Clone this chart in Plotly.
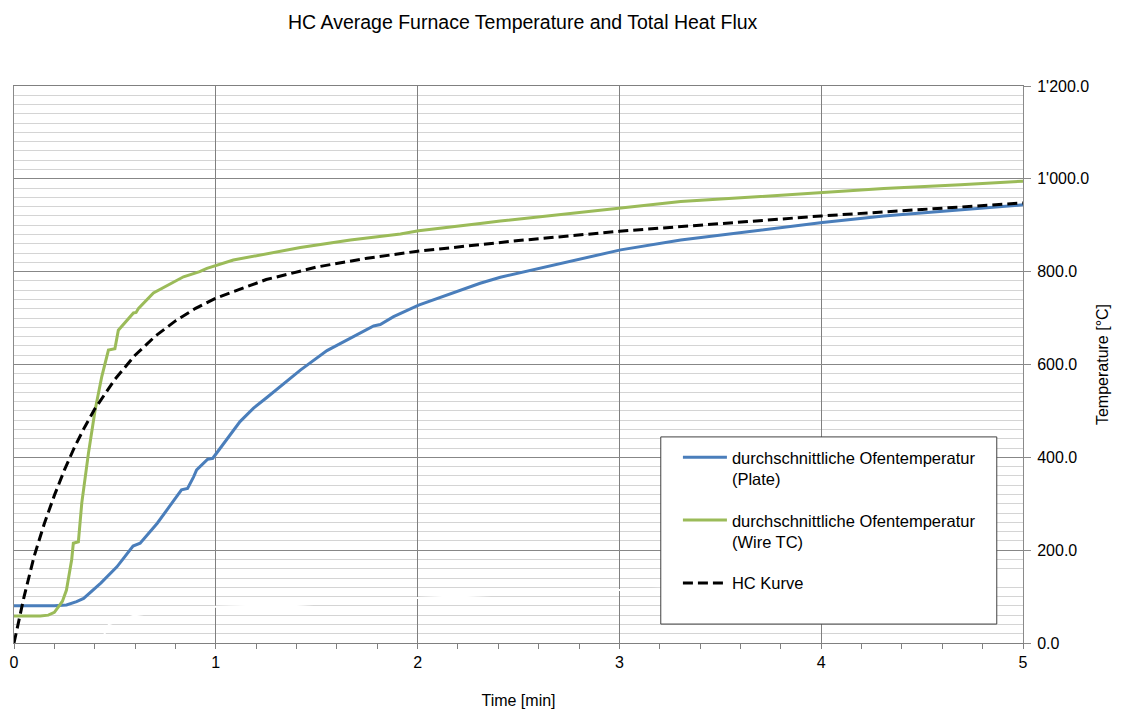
import plotly.graph_objects as go

# ---- data ----
time_plate = [0, 0.2, 0.26, 0.31, 0.345, 0.43, 0.51, 0.59, 0.625, 0.71, 0.83, 0.86, 0.89, 0.905,
              0.96, 0.985, 1.12, 1.154, 1.187, 1.253, 1.419, 1.551, 1.667, 1.782, 1.815, 1.881,
              2.005, 2.179, 2.31, 2.41, 2.642, 3.006, 3.304, 3.70, 3.80, 4.006, 4.31, 4.69, 5.0]
temp_plate = [80, 80, 82, 89, 96, 129, 164, 209, 215, 258, 330, 333, 358, 373,
              396, 398, 477, 491, 506, 529, 588, 630, 656, 683, 686, 703,
              728, 755, 775, 788, 811, 847, 868, 890, 895, 906, 920, 933, 944]

time_wire = [0, 0.13, 0.17, 0.2, 0.22, 0.24, 0.26, 0.28, 0.286, 0.294, 0.319, 0.336, 0.369,
             0.402, 0.435, 0.468, 0.50, 0.517, 0.559, 0.592, 0.605, 0.617, 0.691, 0.79, 0.84,
             0.92, 0.956, 1.087, 1.171, 1.419, 1.667, 1.915, 2.005, 2.163, 2.31, 2.41, 3.006,
             3.304, 3.70, 3.80, 4.006, 4.31, 4.69, 5.0]
temp_wire = [58, 58, 60, 66, 78, 90, 114, 160, 180, 215, 218, 302, 409,
             502, 574, 631, 634, 674, 696, 711, 712, 721, 754, 778, 789,
             800, 807, 825, 832, 852, 868, 881, 888, 897, 904, 909, 936,
             951, 962, 965, 971, 979, 987, 995]

time_hc = [0, 0.02, 0.05, 0.1, 0.15, 0.2, 0.25, 0.3, 0.35, 0.4, 0.5, 0.6, 0.7, 0.8, 0.9, 1.0,
           1.25, 1.5, 1.75, 2.0, 2.5, 3.0, 3.5, 4.0, 4.5, 5.0]
temp_hc = [0, 40, 100, 187, 257, 318, 373, 422, 465, 504, 568, 620, 661, 694, 721, 743,
           783, 810, 829, 844, 867, 887, 904, 920, 934, 948]

# hidden (white) heat-flux series visible only where it crosses grid lines
time_flux = [0.18, 0.43, 0.47, 0.6, 0.8, 1.0, 1.4, 2.0, 3.0, 4.0, 5.0]
val_flux = [0, 2, 40, 60, 72, 78, 82, 97, 114, 128, 140]

names = ["durchschnittliche Ofentemperatur<br>(Plate)",
         "durchschnittliche Ofentemperatur<br>(Wire TC)",
         "HC Kurve"]

FONT = "Arial, Liberation Sans, sans-serif"

fig = go.Figure()
fig.add_trace(go.Scatter(x=time_flux, y=val_flux, mode="lines", showlegend=False,
                         hoverinfo="skip", line=dict(color="white", width=2)))
fig.add_trace(go.Scatter(x=time_plate, y=temp_plate, mode="lines", name=names[0],
                         legendgroup="a", line=dict(color="#4a7ebb", width=3)))
fig.add_trace(go.Scatter(x=time_wire, y=temp_wire, mode="lines", name=names[1],
                         legendgroup="b", line=dict(color="#9bbb59", width=3)))
fig.add_trace(go.Scatter(x=time_hc, y=temp_hc, mode="lines", name=names[2],
                         legendgroup="c", line=dict(color="black", width=3, dash="10px,5px")))

fig.add_shape(type="rect", xref="paper", yref="paper", x0=0.641, x1=0.974, y0=0.034, y1=0.370,
              line=dict(color="#404040", width=1), fillcolor="white", layer="above")

fig.update_layout(
    width=1124, height=709,
    margin=dict(l=14, r=101, t=86, b=66, autoexpand=False),
    paper_bgcolor="white", plot_bgcolor="white",
    separators=".'",
    font=dict(family=FONT, size=16, color="black"),
    title=dict(text="HC Average Furnace Temperature and Total Heat Flux",
               x=0.465, xanchor="center", y=0.969, yanchor="middle",
               font=dict(size=19.5, family=FONT, color="black")),
    showlegend=True,
    legend=dict(x=0.658, xanchor="left", y=0.3645, yanchor="top",
                bgcolor="rgba(0,0,0,0)", borderwidth=0, itemwidth=44,
                valign="top", tracegroupgap=17, traceorder="grouped",
                font=dict(size=16.5, family=FONT, color="black")),
    xaxis=dict(range=[0, 5], tick0=0, dtick=1, showgrid=True, gridcolor="#808080", gridwidth=1,
               showline=True, linecolor="#808080", linewidth=1, mirror=True, zeroline=False,
               ticks="outside", ticklen=5, tickcolor="#808080", automargin=False,
               minor=dict(dtick=0.2, ticks="outside", ticklen=5, tickcolor="#808080", showgrid=False),
               title=dict(text="Time [min]", font=dict(size=16), standoff=32),
               tickfont=dict(size=16)),
    yaxis=dict(range=[0, 1200], side="right", tick0=0, dtick=200, tickformat=",.1f",
               showgrid=True, gridcolor="#878787", gridwidth=1, automargin=False,
               minor=dict(dtick=20, showgrid=True, gridcolor="#d4d4d4", gridwidth=1, ticks=""),
               showline=True, linecolor="#8a8a8a", linewidth=1, mirror=True, zeroline=False,
               ticks="outside", ticklen=7, tickcolor="#8a8a8a", ticklabelstandoff=3,
               title=dict(text="Temperature [°C]", font=dict(size=16), standoff=8),
               tickfont=dict(size=16)),
)

fig.write_html("out.html")
